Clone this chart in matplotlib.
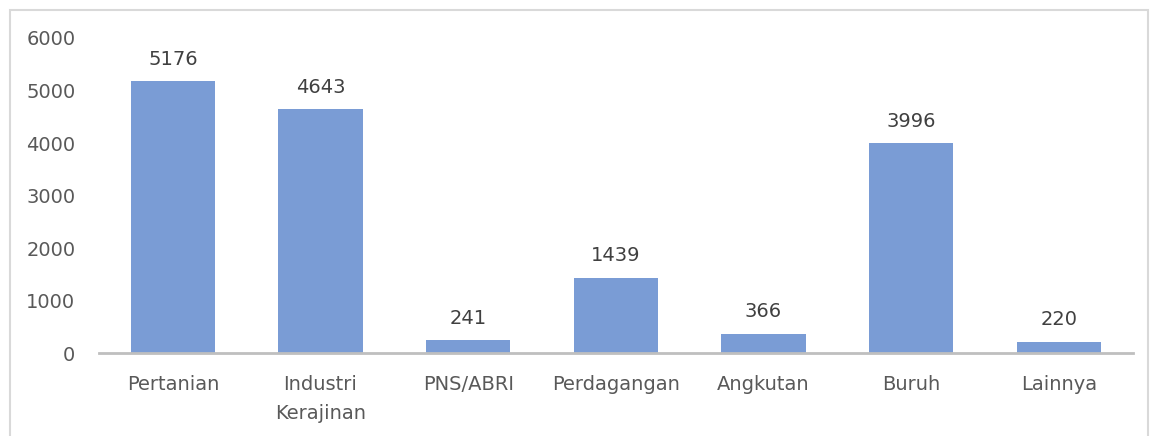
import matplotlib.pyplot as plt
from matplotlib.patches import Rectangle

categories = ['Pertanian', 'Industri\nKerajinan', 'PNS/ABRI', 'Perdagangan',
              'Angkutan', 'Buruh', 'Lainnya']
values = [5176, 4643, 241, 1439, 366, 3996, 220]
yticks = [0, 1000, 2000, 3000, 4000, 5000, 6000]

bar_color = '#7A9CD5'
text_color = '#595959'

plt.rcParams['font.family'] = ['DejaVu Sans']

fig = plt.figure(figsize=(11.51, 4.36), dpi=100)
ax = fig.add_axes([0.086, 0.19, 0.898, 0.723])

x = list(range(len(categories)))
ax.bar(x, values, 0.57, color=bar_color, zorder=2)
for xi, v in zip(x, values):
    ax.annotate(str(v), (xi, v), xytext=(0, 9), textcoords='offset points',
                ha='center', va='bottom', fontsize=14, color='#404040')

ax.set_xlim(-0.5, len(categories) - 0.5)
ax.set_ylim(0, 6000)
ax.set_yticks(yticks)
ax.set_yticklabels([str(t) for t in yticks], fontsize=14, color=text_color)
ax.set_xticks(x)
ax.set_xticklabels(categories, fontsize=14, color=text_color, linespacing=1.65)
ax.tick_params(axis='both', length=0)
ax.tick_params(axis='x', pad=16)
ax.tick_params(axis='y', pad=17)

for s in ['top', 'right', 'left']:
    ax.spines[s].set_visible(False)
ax.spines['bottom'].set_color('#BFBFBF')
ax.spines['bottom'].set_linewidth(2)

# light border around the chart area
fig.patches.append(Rectangle((10 / 1151, -0.05), 1138 / 1151, 1 - 10 / 436 + 0.05,
                             transform=fig.transFigure, fill=False,
                             edgecolor='#D9D9D9', linewidth=1.5))

fig.savefig('out.png', dpi=100)
